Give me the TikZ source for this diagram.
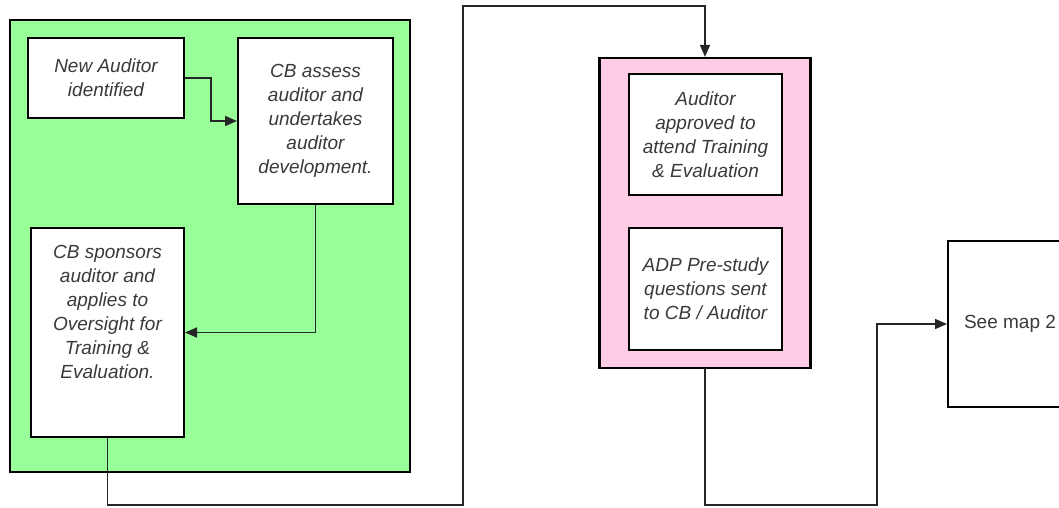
\documentclass[tikz,border=0pt]{standalone}
\usepackage{fontspec}
\setmainfont{Liberation Sans}
\usetikzlibrary{arrows.meta}
\definecolor{grp}{HTML}{99FF99}
\definecolor{pnk}{HTML}{FFCCE6}
\definecolor{txt}{HTML}{3A3A3A}
\tikzset{
  container/.style={draw=black, line width=2.2pt, inner sep=0pt},
  stepbox/.style={draw=black, line width=2pt, fill=white, align=center, inner sep=2pt,
    text=txt, font=\fontsize{19}{24}\selectfont\itshape},
  mapbox/.style={draw=black, line width=2pt, fill=white, align=center, inner sep=2pt,
    text=txt, font=\fontsize{19}{24}\selectfont},
  arr/.style={draw=black!85, line width=1.6pt, -{Triangle[length=12pt,width=10pt]}},
  conn/.style={draw=black!85, line width=1.6pt}
}
\begin{document}
\begin{tikzpicture}[x=1pt,y=-1pt]
\useasboundingbox (0,0) rectangle (1059,508);
\clip (0,0) rectangle (1059,508);
% containers
\node[container, fill=grp, minimum width=400pt, minimum height=452pt] (green) at (210,246) {};
\node[container, fill=pnk, minimum width=211pt, minimum height=310pt] (pink) at (705,213) {};
% steps
\node[stepbox, minimum width=156pt, minimum height=80pt] (n1) at (106,78) {New Auditor\\identified};
\node[stepbox, minimum width=155pt, minimum height=166pt] (n2) at (315.5,121) {CB assess\\auditor and\\undertakes\\auditor\\development.};
\node[stepbox, minimum width=153pt, minimum height=209pt] (n3) at (107.5,332.5) {CB sponsors\\auditor and\\applies to\\Oversight for\\Training \&\\Evaluation.\\[18pt]};
\node[stepbox, minimum width=153pt, minimum height=121pt] (p1) at (705.5,134.5) {Auditor\\approved to\\attend Training\\\& Evaluation};
\node[stepbox, minimum width=153pt, minimum height=122pt] (p2) at (705.5,289) {ADP Pre-study\\questions sent\\to CB / Auditor};
\node[mapbox, minimum width=124pt, minimum height=166pt] (map) at (1010,324) {See map 2};
% connector way points
\coordinate (k1) at (463,505);
\coordinate (k2) at (463,6);
\coordinate (c1) at (877,505);
% connectors
\draw[arr] (n1.east) -- ++(26,0) |- (n2.west);
\draw[arr] (n2.south) |- (n3.east);
\draw[arr] (n3.south) |- (k1) -- (k2) -| (pink.north);
\draw[arr] (pink.south) |- (c1) |- (map.west);
\end{tikzpicture}
\end{document}
